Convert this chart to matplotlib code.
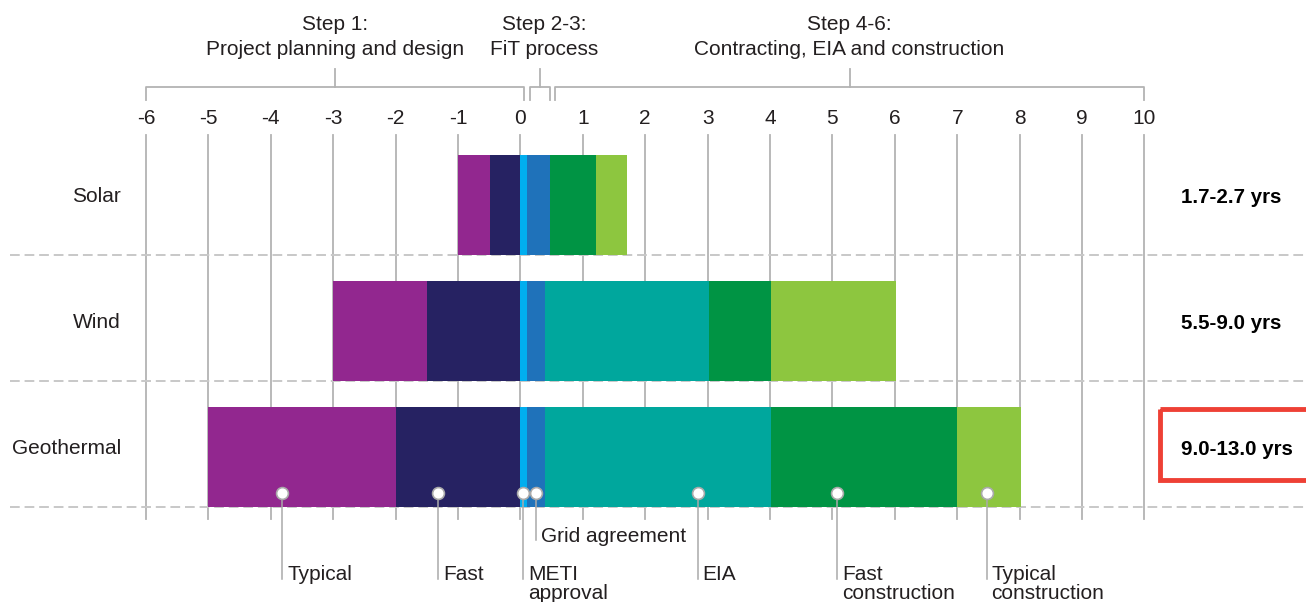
import matplotlib

matplotlib.use("Agg")

import matplotlib.pyplot as plt
import numpy as np
from matplotlib.patches import Rectangle

plt.rcParams["font.family"] = ["Liberation Sans", "DejaVu Sans"]

# data: years relative to FiT application (0)
technologies = ["Solar", "Wind", "Geothermal"]
totals = ["1.7-2.7 yrs", "5.5-9.0 yrs", "9.0-13.0 yrs"]
starts = [-1.0, -3.0, -5.0]
stage_colors = ["#92278F", "#262262", "#00AEEF", "#1F72BA", "#00A79D", "#009444", "#8DC63F"]
solar = [0.51, 0.49, 0.10, 0.37, 0.00, 0.74, 0.50]
wind = [1.50, 1.50, 0.10, 0.30, 2.62, 1.00, 2.00]
geothermal = [3.00, 2.00, 0.10, 0.30, 3.62, 2.98, 1.03]
durations = [solar, wind, geothermal]

marker_labels = ["Typical", "Fast", "METI\napproval", "Grid agreement", "EIA", "Fast\nconstruction", "Typical\nconstruction"]
marker_x = [-3.82, -1.32, 0.04, 0.25, 2.84, 5.07, 7.47]
marker_low = [False, False, False, True, False, False, False]

steps = ["Step 1:\nProject planning and design", "Step 2-3:\nFiT process", "Step 4-6:\nContracting, EIA and construction"]
step_spans = [(-6.0, 0.05), (0.15, 0.47), (0.55, 10.0)]
ticks = np.arange(-6, 11)

TEXT = "#231F20"
GRID = "#B3B3B3"
FS = 15

fig = plt.figure(figsize=(13.06, 6.02), dpi=100)
ax = fig.add_axes([0, 0, 1, 1])
ax.set_xlim(-8.34, 12.59)
ax.set_ylim(3.151, -1.627)
ax.axis("off")

# vertical grid + tick labels
for t in ticks:
    ax.plot([t, t], [-0.556, 2.49], color=GRID, lw=1.3, zorder=1)
    ax.text(t, -0.685, f"{t}", ha="center", va="center", fontsize=FS, color=TEXT)

# dashed row separators
for i in range(len(technologies)):
    ax.plot([-8.18, 12.6], [i + 0.4, i + 0.4], color="#C8C8C8", lw=1.4,
            dashes=(5, 2.5), zorder=1)

# stacked bars
for i, (tech, d, s) in enumerate(zip(technologies, durations, starts)):
    lefts = s + np.concatenate([[0], np.cumsum(d)[:-1]])
    ax.barh(i, d, left=lefts, height=0.795, color=stage_colors, zorder=2, linewidth=0)
    ax.text(-6.40, i - 0.065, tech, ha="right", va="center", fontsize=FS, color=TEXT)
    ax.text(10.59, i - 0.06, totals[i], ha="left", va="center", fontsize=14.8,
            fontweight="bold", color="black")

ax.add_patch(Rectangle((10.25, 1.62), 3.0, 0.56, fill=False, edgecolor="#EE4035",
                       lw=3.5, zorder=3))

# step brackets
for label, (a, b) in zip(steps, step_spans):
    mid = (a + b) / 2
    ax.plot([a, a, b, b], [-0.833, -0.937, -0.937, -0.833], color=GRID, lw=1.3)
    ax.plot([mid, mid], [-0.937, -1.079], color=GRID, lw=1.3)
    tx = 0.38 if label.startswith("Step 2") else mid
    ax.text(tx, -1.16, label, ha="center", va="bottom", fontsize=FS, color=TEXT,
            linespacing=1.4)

# milestone markers on geothermal row
for lab, x, low in zip(marker_labels, marker_x, marker_low):
    y_end = 2.659 if low else 2.968
    y_txt = 2.556 if low else 2.857
    ax.plot([x, x], [2.286, y_end], color="#AAAAAA", lw=1.1, zorder=3)
    ax.plot(x, 2.286, "o", ms=8.5, mfc="white", mec="#AAAAAA", mew=1.2, zorder=4)
    ax.text(x + 0.08, y_txt, lab, ha="left", va="top", fontsize=FS, color=TEXT,
            linespacing=1.0)

fig.savefig("out.png", dpi=100)
